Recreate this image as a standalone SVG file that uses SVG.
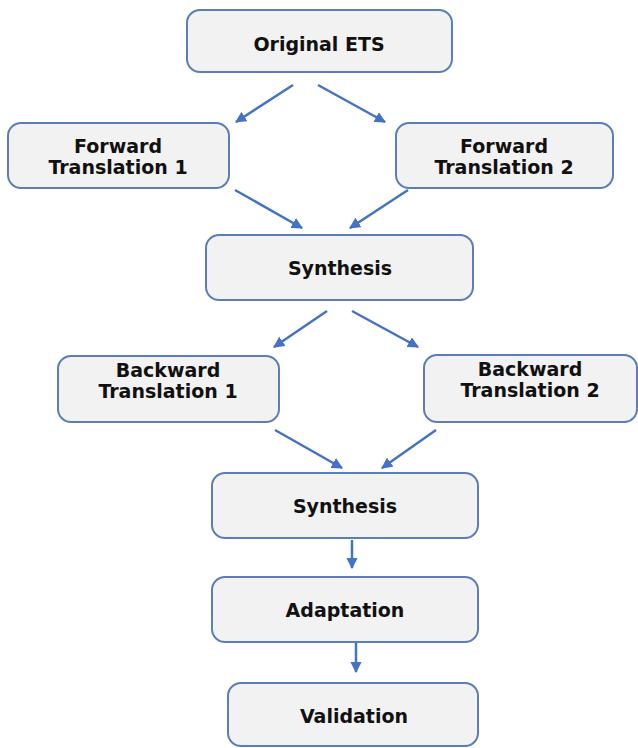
<svg xmlns="http://www.w3.org/2000/svg" width="638" height="748" viewBox="0 0 638 748">
<style>
.box{fill:#f2f2f2;stroke:#5b7db8;stroke-width:2}
.t{font-family:"DejaVu Sans",Verdana,sans-serif;font-weight:bold;font-size:19px;fill:#111;text-anchor:middle}
.c line{stroke:#4472c4;stroke-width:2.5}
</style>
<defs>
<marker id="ah" viewBox="0 0 10 10" refX="9" refY="5" markerWidth="4.5" markerHeight="4.5" orient="auto" markerUnits="strokeWidth">
<path d="M0,0 L10,5 L0,10 Z" fill="#4472c4"/>
</marker>
</defs>
<rect width="638" height="748" fill="#fff"/>
<g id="n1"><rect class="box" x="187" y="10" width="265" height="62" rx="13"/><text class="t" x="319" y="51">Original ETS</text></g>
<g id="n2"><rect class="box" x="8" y="123" width="221" height="65" rx="13"/><text class="t" x="118" y="153">Forward</text><text class="t" x="118" y="174">Translation 1</text></g>
<g id="n3"><rect class="box" x="396" y="123" width="217" height="65" rx="13"/><text class="t" x="504" y="153">Forward</text><text class="t" x="504" y="174">Translation 2</text></g>
<g id="n4"><rect class="box" x="206" y="235" width="267" height="65" rx="13"/><text class="t" x="340" y="275">Synthesis</text></g>
<g id="n5"><rect class="box" x="58" y="356" width="221" height="66" rx="13"/><text class="t" x="168" y="377">Backward</text><text class="t" x="168" y="398">Translation 1</text></g>
<g id="n6"><rect class="box" x="424" y="355" width="213" height="67" rx="13"/><text class="t" x="530" y="376">Backward</text><text class="t" x="530" y="397">Translation 2</text></g>
<g id="n7"><rect class="box" x="212" y="473" width="266" height="65" rx="13"/><text class="t" x="345" y="513">Synthesis</text></g>
<g id="n8"><rect class="box" x="212" y="577" width="266" height="65" rx="13"/><text class="t" x="345" y="617">Adaptation</text></g>
<g id="n9"><rect class="box" x="228" y="683" width="250" height="63" rx="13"/><text class="t" x="354" y="723">Validation</text></g>
<g id="connectors" class="c">
<line x1="293" y1="85" x2="236" y2="122" marker-end="url(#ah)"/>
<line x1="318" y1="85" x2="385" y2="122" marker-end="url(#ah)"/>
<line x1="235" y1="190" x2="302" y2="228" marker-end="url(#ah)"/>
<line x1="408" y1="190" x2="350" y2="228" marker-end="url(#ah)"/>
<line x1="327" y1="311" x2="274" y2="347" marker-end="url(#ah)"/>
<line x1="352" y1="311" x2="418" y2="347" marker-end="url(#ah)"/>
<line x1="275" y1="430" x2="342" y2="468" marker-end="url(#ah)"/>
<line x1="436" y1="430" x2="382" y2="468" marker-end="url(#ah)"/>
<line x1="352" y1="540" x2="352" y2="568" marker-end="url(#ah)"/>
<line x1="356" y1="643" x2="356" y2="672" marker-end="url(#ah)"/>
</g>
</svg>
